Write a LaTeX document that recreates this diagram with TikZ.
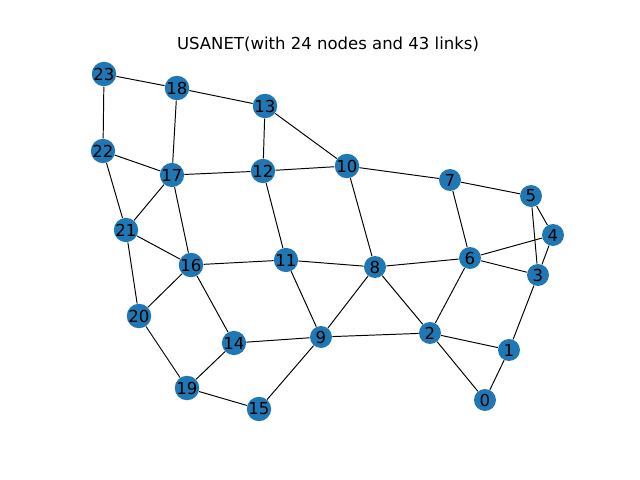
\documentclass[tikz,border=0pt]{standalone}
\usepackage{fontspec}
\setmainfont{DejaVu Sans}
\usepackage{tikz}
\definecolor{nodeblue}{HTML}{1F77B4}
\tikzset{
  vtx/.style={circle,fill=nodeblue,inner sep=0pt,minimum size=0.44cm,font=\fontsize{9.4}{10}\selectfont},
  lnk/.style={draw=black,line width=0.55pt}
}
\begin{document}
\begin{tikzpicture}[x=0.02cm,y=-0.02cm]
\useasboundingbox (0,0) rectangle (640,480);
\node[font=\fontsize{9.4}{10}\selectfont] (title) at (328,44) {USANET(with 24 nodes and 43 links)};
% nodes
\foreach \n/\px/\py in {0/485/400,1/509/350,2/430/333,3/538/275,4/553/235,5/531/196,
  6/470/258,7/450/180,8/375/267,9/321/337,10/347/166,11/286/260,12/263/171,13/265/106,
  14/234/343,15/259/409,16/191/265,17/172/175,18/177/88,19/187/388,20/139/316,
  21/126/230,22/103/151,23/104/74}
  \node[vtx] (n\n) at (\px,\py) {\n};
% links
\foreach \a/\b in {23/18,23/22,18/13,18/17,13/12,13/10,22/17,22/21,17/12,12/10,17/21,
  17/16,12/11,10/7,10/8,7/5,7/6,5/4,5/3,4/6,4/3,6/3,6/8,6/2,21/16,21/20,16/11,11/8,
  16/20,16/14,11/9,8/9,8/2,20/19,14/9,14/19,19/15,9/15,9/2,2/1,2/0,1/0,1/3}
  \draw[lnk] (n\a) -- (n\b);
\end{tikzpicture}
\end{document}
